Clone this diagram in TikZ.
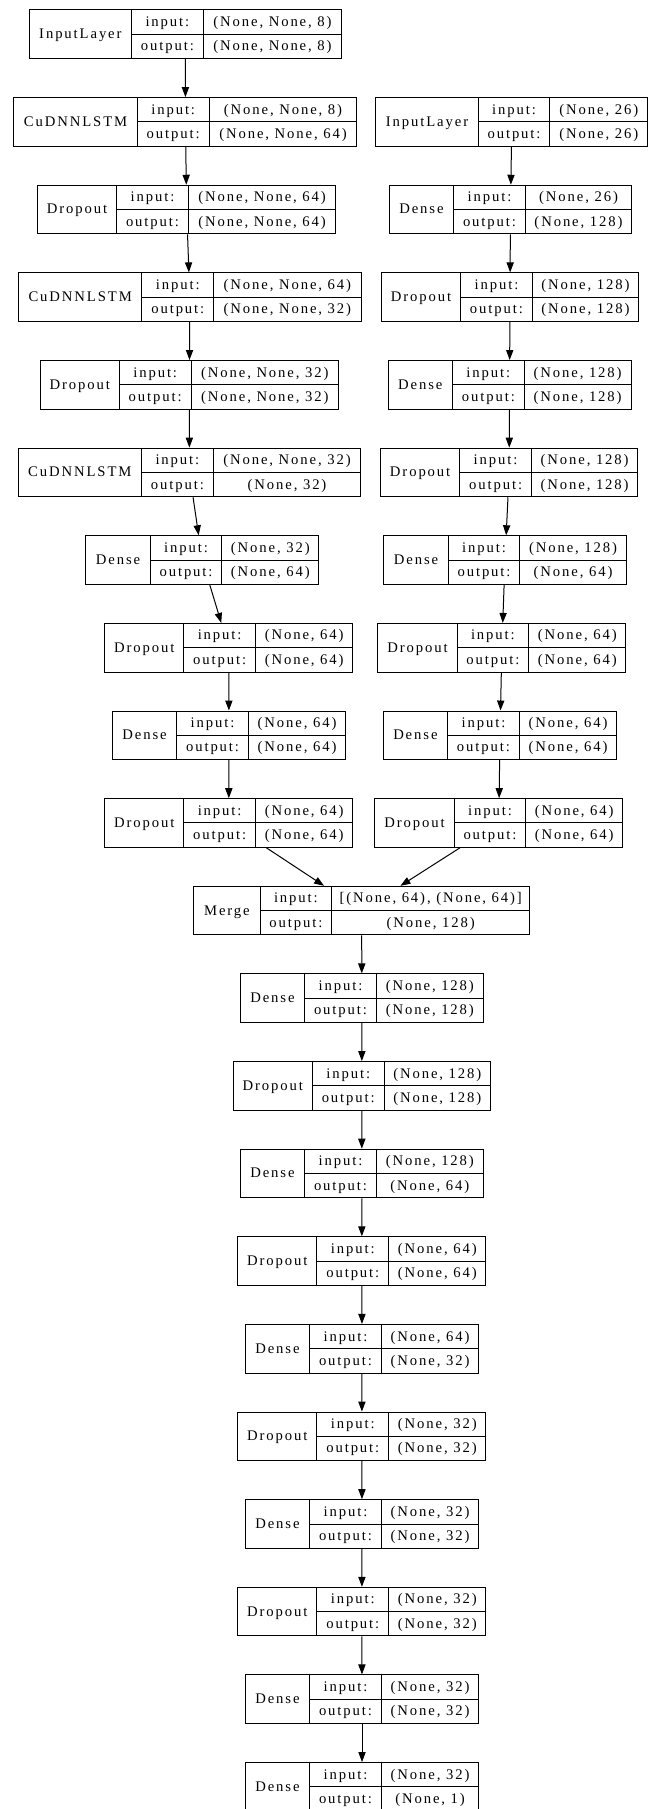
\documentclass[tikz,border=0pt]{standalone}
\usepackage{fontspec}
\usepackage{tikz}
\usetikzlibrary{arrows.meta}
\newfontfamily\kerasfont[LetterSpace=13]{Liberation Serif}

% one layer record: id, centre x, row, type, name width, value width, input, output
\newcommand{\netlayer}[8]{%
  \pgfmathsetmacro{\lw}{#5+71.7+#6}%
  \pgfmathsetmacro{\lx}{#2-\lw/2}%
  \pgfmathsetmacro{\ly}{10+87.63*#3}%
  \node[layerbox, minimum width=\lw*0.75pt] (#1) at (#2,\ly+24.3) {};
  \draw (\lx+#5,\ly) -- (\lx+#5,\ly+48.6);
  \draw (\lx+#5+71.7,\ly) -- (\lx+#5+71.7,\ly+48.6);
  \draw (\lx+#5,\ly+24.3) -- (\lx+\lw,\ly+24.3);
  \node[cell] (#1t) at (\lx+#5/2,\ly+28.7) {#4};
  \node[cell] (#1i) at (\lx+#5+35.85,\ly+16.55) {input:};
  \node[cell] (#1o) at (\lx+#5+35.85,\ly+40.85) {output:};
  \node[cell] (#1a) at (\lx+#5+71.7+#6/2,\ly+16.55) {#7};
  \node[cell] (#1b) at (\lx+#5+71.7+#6/2,\ly+40.85) {#8};
}

\begin{document}
\begin{tikzpicture}[x=0.75pt, y=-0.75pt, line width=0.75pt, >={Triangle[length=7.5pt,width=5.4pt]},
    layerbox/.style={draw, rectangle, inner sep=0pt, minimum height=36.45pt},
    cell/.style={anchor=base, inner sep=0pt, font=\kerasfont\fontsize{11}{13}\selectfont}]
            \useasboundingbox (0,0) rectangle (654,1809);

            % left branch
            \netlayer{A0}{185.45}{0}{InputLayer}{102.3}{138.4}{(None, None, 8)}{(None, None, 8)}
            \netlayer{A1}{185.4}{1}{CuDNNLSTM}{123.5}{147.9}{(None, None, 8)}{(None, None, 64)}
            \netlayer{A2}{186.65}{2}{Dropout}{79.2}{147.5}{(None, None, 64)}{(None, None, 64)}
            \netlayer{A3}{189.8}{3}{CuDNNLSTM}{123.5}{147.5}{(None, None, 64)}{(None, None, 32)}
            \netlayer{A4}{189.35}{4}{Dropout}{79.2}{147.5}{(None, None, 32)}{(None, None, 32)}
            \netlayer{A5}{189.4}{5}{CuDNNLSTM}{123.5}{147.5}{(None, None, 32)}{(None, 32)}
            \netlayer{A6}{202.3}{6}{Dense}{64.4}{96.9}{(None, 32)}{(None, 64)}
            \netlayer{A7}{228.75}{7}{Dropout}{79.2}{97.4}{(None, 64)}{(None, 64)}
            \netlayer{A8}{228.95}{8}{Dense}{64.4}{97.2}{(None, 64)}{(None, 64)}
            \netlayer{A9}{228.75}{9}{Dropout}{79.2}{97.4}{(None, 64)}{(None, 64)}

            % right branch
            \netlayer{B1}{511.85}{1}{InputLayer}{102.3}{97.9}{(None, 26)}{(None, 26)}
            \netlayer{B2}{510.45}{2}{Dense}{64.4}{106.3}{(None, 26)}{(None, 128)}
            \netlayer{B3}{510}{3}{Dropout}{79.2}{106.3}{(None, 128)}{(None, 128)}
            \netlayer{B4}{509.55}{4}{Dense}{64.4}{106.8}{(None, 128)}{(None, 128)}
            \netlayer{B5}{509.15}{5}{Dropout}{79.2}{106.3}{(None, 128)}{(None, 128)}
            \netlayer{B6}{505}{6}{Dense}{64.4}{106.3}{(None, 128)}{(None, 64)}
            \netlayer{B7}{501.85}{7}{Dropout}{79.2}{97.1}{(None, 64)}{(None, 64)}
            \netlayer{B8}{500}{8}{Dense}{64.4}{97.5}{(None, 64)}{(None, 64)}
            \netlayer{B9}{498.75}{9}{Dropout}{79.2}{96.7}{(None, 64)}{(None, 64)}

            % merged trunk
            \netlayer{C10}{361.7}{10}{Merge}{66.3}{197.9}{[(None, 64), (None, 64)]}{(None, 128)}
            \netlayer{C11}{361.8}{11}{Dense}{64.4}{107}{(None, 128)}{(None, 128)}
            \netlayer{C12}{361.85}{12}{Dropout}{79.2}{106.4}{(None, 128)}{(None, 128)}
            \netlayer{C13}{361.8}{13}{Dense}{64.4}{107}{(None, 128)}{(None, 64)}
            \netlayer{C14}{361.85}{14}{Dropout}{79.2}{97.3}{(None, 64)}{(None, 64)}
            \netlayer{C15}{362}{15}{Dense}{64.4}{97.4}{(None, 64)}{(None, 32)}
            \netlayer{C16}{361.85}{16}{Dropout}{79.2}{97.3}{(None, 32)}{(None, 32)}
            \netlayer{C17}{362}{17}{Dense}{64.4}{97.4}{(None, 32)}{(None, 32)}
            \netlayer{C18}{361.85}{18}{Dropout}{79.2}{97.3}{(None, 32)}{(None, 32)}
            \netlayer{C19}{362}{19}{Dense}{64.4}{97.4}{(None, 32)}{(None, 32)}
            \netlayer{C20}{362}{20}{Dense}{64.4}{97.4}{(None, 32)}{(None, 1)}

            \draw[->] (A0) -- (A1);
            \draw[->] (A1) -- (A2);
            \draw[->] (A2) -- (A3);
            \draw[->] (A3) -- (A4);
            \draw[->] (A4) -- (A5);
            \draw[->] (A5) -- (A6);
            \draw[->] (A6) -- (A7);
            \draw[->] (A7) -- (A8);
            \draw[->] (A8) -- (A9);
            \draw[->] (A9) -- (C10);

            \draw[->] (B1) -- (B2);
            \draw[->] (B2) -- (B3);
            \draw[->] (B3) -- (B4);
            \draw[->] (B4) -- (B5);
            \draw[->] (B5) -- (B6);
            \draw[->] (B6) -- (B7);
            \draw[->] (B7) -- (B8);
            \draw[->] (B8) -- (B9);
            \draw[->] (B9) -- (C10);

            \draw[->] (C10) -- (C11);
            \draw[->] (C11) -- (C12);
            \draw[->] (C12) -- (C13);
            \draw[->] (C13) -- (C14);
            \draw[->] (C14) -- (C15);
            \draw[->] (C15) -- (C16);
            \draw[->] (C16) -- (C17);
            \draw[->] (C17) -- (C18);
            \draw[->] (C18) -- (C19);
            \draw[->] (C19) -- (C20);
        \end{tikzpicture}
\end{document}
